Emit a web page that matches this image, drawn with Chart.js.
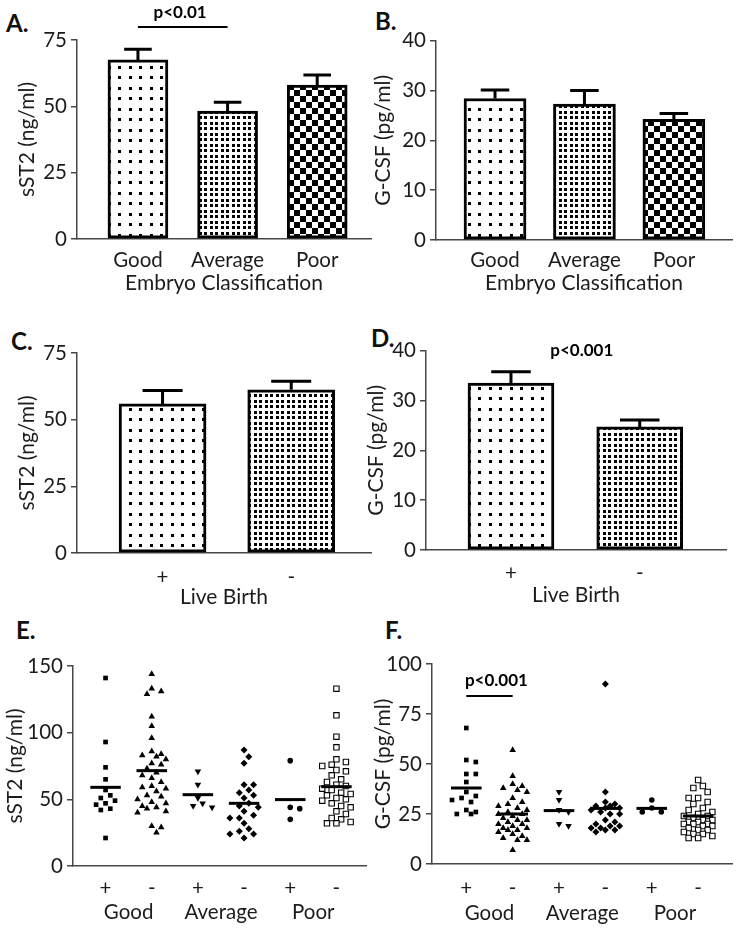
<!DOCTYPE html>
<html>
<head>
<meta charset="utf-8">
<script src="https://cdn.jsdelivr.net/npm/chart.js@4.4.1/dist/chart.umd.min.js"></script>
<style>
  body { margin: 0; background: #fff; width: 738px; height: 929px; position: relative; overflow: hidden; }
  canvas { position: absolute; }
  .tag { position: absolute; font: bold 24px Lato, sans-serif; line-height: 24px; color: #111; }
</style>
</head>
<body>
<div class="tag" style="left:6px;top:11px">A.</div>
<div class="tag" style="left:375px;top:9px">B.</div>
<div class="tag" style="left:11px;top:329px">C.</div>
<div class="tag" style="left:371px;top:326px">D.</div>
<div class="tag" style="left:16px;top:618px">E.</div>
<div class="tag" style="left:385px;top:618px">F.</div>
<canvas id="panelA"></canvas>
<canvas id="panelB"></canvas>
<canvas id="panelC"></canvas>
<canvas id="panelD"></canvas>
<canvas id="panelE"></canvas>
<canvas id="panelF"></canvas>
<script>
// Data
const embryoCats = ['Good', 'Average', 'Poor'];
const sst2ByEmbryo = [67.5, 48.2, 58.0];
const sst2ByEmbryoSem = [4.0, 3.3, 3.8];
const gcsfByEmbryo = [28.4, 27.3, 24.2];
const gcsfByEmbryoSem = [1.7, 2.7, 1.2];

const birthCats = ['+', '-'];
const sst2ByBirth = [55.9, 61.2];
const sst2ByBirthSem = [5.0, 3.2];
const gcsfByBirth = [33.5, 24.7];
const gcsfByBirthSem = [2.3, 1.4];

const dotCats = ['+', '-', '+', '-', '+', '-'];
const dotGroups = ['Good', 'Average', 'Poor'];

const sst2GoodPos = [141, 93, 74, 65, 57, 53, 51, 49, 47, 46, 43, 42, 21];
const sst2GoodNeg = [144, 133, 131, 129, 112, 105, 96, 86, 84, 83, 82, 80, 77, 76, 73, 70, 68, 66, 63, 60, 59, 58, 56, 53, 52, 50, 48, 47, 45, 44, 43, 41, 40, 30, 29, 25];
const sst2AvgPos = [71, 61, 51, 47, 45, 44];
const sst2AvgNeg = [87, 82, 77, 61, 61, 57, 55, 53, 51, 47, 45, 44, 41, 38, 36, 36, 32, 28, 26, 24, 24, 21];
const sst2PoorPos = [79, 44, 43, 35];
const sst2PoorNeg = [133, 113, 97, 89, 80, 78, 76, 75, 72, 71, 68, 65, 63, 61, 60, 58, 57, 55, 54, 53, 51, 50, 49, 47, 45, 44, 41, 39, 36, 35, 33, 32, 32];
const sst2Means = [59, 71.5, 53.5, 47, 49.8, 59.5];

const gcsfGoodPos = [68, 52, 51, 45, 45, 41, 36, 34, 33, 32, 31, 27, 26, 25, 25];
const gcsfGoodNeg = [57, 44, 40, 39, 38, 37, 36, 33, 31, 30, 29, 28, 27, 26, 25, 25, 24, 23, 22, 22, 21, 20, 20, 19, 18, 18, 17, 17, 16, 15, 14, 13, 12, 12, 7];
const gcsfAvgPos = [36, 32, 27, 26, 20, 19];
const gcsfAvgNeg = [90, 36, 31, 30, 29, 29, 28, 28, 27, 26, 25, 25, 22, 21, 20, 19, 19, 18, 18, 17, 17, 16];
const gcsfPoorPos = [32, 28, 26, 26];
const gcsfPoorNeg = [42, 39, 38, 36, 33, 33, 31, 30, 28, 27, 26, 25, 24, 24, 23, 22, 22, 21, 21, 20, 20, 20, 19, 19, 18, 17, 17, 16, 15, 15, 14, 13, 13];
const gcsfMeans = [38, 25, 26.7, 27.8, 27.8, 24];

const FONT = 'Lato, "Open Sans", sans-serif';
const INK = '#1c1c1c';
const AXIS = '#474747';
const TICK_FS = 20.5;
const TITLE_FS = 21;

// bar fills
function makePattern(ctx, kind) {
    const t = document.createElement('canvas');
    const g = t.getContext('2d');
    if (kind === 'sparse') {
        t.width = t.height = 21;
        g.fillStyle = '#fff'; g.fillRect(0, 0, 21, 21);
        g.fillStyle = '#000';
        [[3, 3], [13, 3], [3, 13], [13, 13]].forEach(p => g.fillRect(p[0], p[1], 3, 3));
    } else if (kind === 'dense') {
        t.width = t.height = 11;
        g.fillStyle = '#fff'; g.fillRect(0, 0, 11, 11);
        g.fillStyle = '#000';
        [[1, 1], [6, 1], [1, 6], [6, 6]].forEach(p => g.fillRect(p[0], p[1], 3, 3));
    } else {
        t.width = t.height = 12;
        g.fillStyle = '#fff'; g.fillRect(0, 0, 12, 12);
        g.fillStyle = '#000';
        g.fillRect(0, 0, 6, 6); g.fillRect(6, 6, 6, 6);
    }
    return ctx.createPattern(t, 'repeat');
}

const errorBarPlugin = {
    id: 'errorBars',
    afterDatasetsDraw(chart, args, opts) {
        if (!opts.sems) return;
        const { ctx } = chart;
        const y = chart.scales.y;
        const vals = chart.data.datasets[0].data;
        ctx.save();
        ctx.strokeStyle = '#000';
        ctx.lineWidth = 3;
        chart.getDatasetMeta(0).data.forEach((bar, i) => {
            const top = y.getPixelForValue(vals[i].y + opts.sems[i]);
            const half = bar.width * 0.23;
            ctx.beginPath();
            ctx.moveTo(bar.x, bar.y);
            ctx.lineTo(bar.x, top);
            ctx.moveTo(bar.x - half, top);
            ctx.lineTo(bar.x + half, top);
            ctx.stroke();
        });
        ctx.restore();
    }
};

const sigPlugin = {
    id: 'sig',
    afterDatasetsDraw(chart, args, opts) {
        if (!opts.text) return;
        const { ctx } = chart;
        const { x, y } = chart.scales;
        ctx.save();
        ctx.fillStyle = '#000';
        ctx.font = 'bold 17px ' + FONT;
        ctx.textAlign = 'center';
        ctx.textBaseline = 'middle';
        ctx.fillText(opts.text, x.getPixelForValue(opts.textX), y.getPixelForValue(opts.textY));
        if (opts.span) {
            const ly = y.getPixelForValue(opts.lineY);
            ctx.strokeStyle = '#000';
            ctx.lineWidth = 2;
            ctx.beginPath();
            ctx.moveTo(x.getPixelForValue(opts.span[0]), ly);
            ctx.lineTo(x.getPixelForValue(opts.span[1]), ly);
            ctx.stroke();
        }
        ctx.restore();
    }
};

function setupCanvas(id, box) {
    const cv = document.getElementById(id);
    cv.width = box.w;
    cv.height = box.h;
    cv.style.left = box.x + 'px';
    cv.style.top = box.y + 'px';
    return cv.getContext('2d');
}

function valueAxis(max, step, width, title, titleX) {
    return {
        type: 'linear', min: 0, max: max,
        ticks: { stepSize: step, color: INK, font: { family: FONT, size: TICK_FS }, padding: 4 },
        grid: { drawOnChartArea: false, drawTicks: true, tickLength: 6, color: AXIS, lineWidth: 1.5 },
        border: { color: AXIS, width: 1.5 },
        title: {
            display: true, text: title, color: INK,
            font: { family: FONT, size: TITLE_FS, lineHeight: 1.2 },
            padding: { top: titleX - TITLE_FS * 0.6, bottom: 0 }
        },
        afterFit: s => { s.width = width; }
    };
}

// labelMid: distance from the axis line down to the middle of the tick labels
function catAxis(labels, positions, min, max, height, labelMid, title, titleOff) {
    return {
        type: 'linear', min: min, max: max, offset: false,
        afterBuildTicks: s => { s.ticks = positions.map(v => ({ value: v })); },
        ticks: {
            autoSkip: false, maxRotation: 0, color: INK, padding: labelMid - TICK_FS * 0.6,
            font: { family: FONT, size: TICK_FS },
            callback: (v, i) => labels[i]
        },
        grid: { display: false, drawTicks: false },
        border: { display: true, color: AXIS, width: 1.5 },
        title: title ? {
            display: true, text: title, color: INK,
            font: { family: FONT, size: TITLE_FS, lineHeight: 1.2 },
            padding: { top: 0, bottom: titleOff - TITLE_FS * 0.6 }
        } : { display: false },
        afterFit: s => { s.height = height; }
    };
}

function barPanel(id, box, area, o) {
    const ctx = setupCanvas(id, box);
    return new Chart(ctx, {
        type: 'bar',
        data: {
            datasets: [{
                data: o.values.map((v, i) => ({ x: i, y: v })),
                backgroundColor: o.fills.map(k => makePattern(ctx, k)),
                borderColor: '#000',
                borderWidth: 3,
                borderSkipped: false,
                barThickness: o.barW
            }]
        },
        options: {
            responsive: false,
            animation: false,
            layout: { padding: { left: 0, top: area.t - box.y, right: box.x + box.w - area.r, bottom: 0 } },
            plugins: {
                legend: { display: false },
                tooltip: { enabled: false },
                errorBars: { sems: o.sems },
                sig: o.sig || {}
            },
            scales: {
                x: catAxis(o.cats, o.cats.map((c, i) => i), o.xMin, o.xMax,
                    box.y + box.h - area.b, o.labelMid, o.xTitle, o.xTitleOff),
                y: valueAxis(o.yMax, o.yStep, area.l - box.x, o.yTitle, o.yTitleX)
            }
        },
        plugins: [errorBarPlugin, sigPlugin]
    });
}

// spread points of one column sideways so they don't sit on top of each other
function swarm(vals, ci, pxY, pxX) {
    const step = 4.8, diam = 7, maxK = 3;
    const placed = [];
    const order = vals.map((v, i) => i).sort((a, b) => vals[b] - vals[a]);
    const pts = [];
    order.forEach(i => {
        const py = vals[i] * pxY;
        let best = 0, bestGap = -1;
        for (let k = 0; k <= maxK * 2; k++) {
            const dx = k === 0 ? 0 : (k % 2 ? 1 : -1) * Math.ceil(k / 2) * step;
            const gap = Math.min(Infinity, ...placed.map(p => Math.hypot(p.x - dx, p.y - py)));
            if (gap >= diam) { best = dx; break; }
            if (gap > bestGap) { bestGap = gap; best = dx; }
        }
        placed.push({ x: best, y: py });
        pts.push({ x: ci + best / pxX, y: vals[i] });
    });
    return pts;
}

const markers = [
    { style: 'rect', rot: 0, r: 3.3, fill: '#000', bw: 0 },
    { style: 'triangle', rot: 0, r: 3.8, fill: '#000', bw: 0 },
    { style: 'triangle', rot: 180, r: 3.8, fill: '#000', bw: 0 },
    { style: 'rectRot', rot: 0, r: 3.5, fill: '#000', bw: 0 },
    { style: 'circle', rot: 0, r: 2.8, fill: '#000', bw: 0 },
    { style: 'rect', rot: 0, r: 3.8, fill: '#fff', bw: 1.1 }
];

function dotPanel(id, box, area, o) {
    const ctx = setupCanvas(id, box);
    const pxY = (area.b - area.t) / o.yMax;
    const pxX = (area.r - area.l) / (o.xMax - o.xMin);
    const datasets = o.columns.map((vals, i) => ({
        type: 'scatter',
        data: swarm(vals, i, pxY, pxX),
        pointStyle: markers[i].style,
        rotation: markers[i].rot,
        pointRadius: markers[i].r,
        backgroundColor: markers[i].fill,
        borderColor: '#000',
        borderWidth: markers[i].bw,
        order: 2
    }));
    o.means.forEach((m, i) => {
        datasets.push({
            type: 'line',
            data: [{ x: i - 0.33, y: m }, { x: i + 0.33, y: m }],
            borderColor: '#000',
            borderWidth: 3,
            pointRadius: 0,
            order: 1
        });
    });
    const xHeight = 30;
    const x = catAxis(dotCats, dotCats.map((c, i) => i), o.xMin, o.xMax, xHeight, o.labelMid);
    const x2 = catAxis(dotGroups, [0.5, 2.5, 4.5], o.xMin, o.xMax,
        box.y + box.h - area.b - xHeight, o.groupMid);
    x2.position = 'bottom';
    x2.weight = 1;
    x2.border = { display: false };
    return new Chart(ctx, {
        type: 'scatter',
        data: { datasets: datasets },
        options: {
            responsive: false,
            animation: false,
            clip: false,
            layout: { padding: { left: 0, top: area.t - box.y, right: box.x + box.w - area.r, bottom: 0 } },
            plugins: { legend: { display: false }, tooltip: { enabled: false }, sig: o.sig || {} },
            scales: {
                x: x,
                x2: x2,
                y: valueAxis(o.yMax, o.yStep, area.l - box.x, o.yTitle, o.yTitleX)
            }
        },
        plugins: [sigPlugin]
    });
}

barPanel('panelA', { x: 0, y: 0, w: 372, h: 300 }, { l: 77, t: 40, r: 371, b: 239 }, {
    cats: embryoCats, values: sst2ByEmbryo, sems: sst2ByEmbryoSem,
    fills: ['sparse', 'dense', 'checker'], barW: 60,
    xMin: -0.68, xMax: 2.6, labelMid: 21, xTitle: 'Embryo Classification', xTitleOff: 17,
    yMax: 75, yStep: 25, yTitle: 'sST2 (ng/ml)', yTitleX: 27,
    sig: { text: 'p<0.01', textX: 0.47, textY: 85.2, span: [0, 1], lineY: 79.9 }
});

barPanel('panelB', { x: 360, y: 0, w: 378, h: 300 }, { l: 436, t: 40.7, r: 732, b: 240 }, {
    cats: embryoCats, values: gcsfByEmbryo, sems: gcsfByEmbryoSem,
    fills: ['sparse', 'dense', 'checker'], barW: 62,
    xMin: -0.66, xMax: 2.65, labelMid: 20, xTitle: 'Embryo Classification', xTitleOff: 17,
    yMax: 40, yStep: 10, yTitle: 'G-CSF (pg/ml)', yTitleX: 23
});

barPanel('panelC', { x: 0, y: 300, w: 372, h: 320 }, { l: 77, t: 353, r: 371, b: 553 }, {
    cats: birthCats, values: sst2ByBirth, sems: sst2ByBirthSem,
    fills: ['sparse', 'dense'], barW: 87,
    xMin: -0.665, xMax: 1.62, labelMid: 24, xTitle: 'Live Birth', xTitleOff: 23,
    yMax: 75, yStep: 25, yTitle: 'sST2 (ng/ml)', yTitleX: 27
});

barPanel('panelD', { x: 360, y: 300, w: 378, h: 320 }, { l: 426, t: 350.7, r: 726, b: 550 }, {
    cats: birthCats, values: gcsfByBirth, sems: gcsfByBirthSem,
    fills: ['sparse', 'dense'], barW: 86,
    xMin: -0.66, xMax: 1.67, labelMid: 23, xTitle: 'Live Birth', xTitleOff: 25,
    yMax: 40, yStep: 10, yTitle: 'G-CSF (pg/ml)', yTitleX: 16,
    sig: { text: 'p<0.001', textX: 0.55, textY: 40.1 }
});

dotPanel('panelE', { x: 0, y: 620, w: 372, h: 309 }, { l: 73, t: 666, r: 371, b: 866 }, {
    columns: [sst2GoodPos, sst2GoodNeg, sst2AvgPos, sst2AvgNeg, sst2PoorPos, sst2PoorNeg],
    means: sst2Means,
    xMin: -0.705, xMax: 5.66, labelMid: 22, groupMid: 16,
    yMax: 150, yStep: 50, yTitle: 'sST2 (ng/ml)', yTitleX: 15
});

dotPanel('panelF', { x: 360, y: 620, w: 378, h: 309 }, { l: 432, t: 664, r: 736, b: 864 }, {
    columns: [gcsfGoodPos, gcsfGoodNeg, gcsfAvgPos, gcsfAvgNeg, gcsfPoorPos, gcsfPoorNeg],
    means: gcsfMeans,
    xMin: -0.74, xMax: 5.75, labelMid: 24, groupMid: 19,
    yMax: 100, yStep: 25, yTitle: 'G-CSF (pg/ml)', yTitleX: 23,
    sig: { text: 'p<0.001', textX: 0.65, textY: 91.5, span: [0, 1], lineY: 84 }
});
</script>
</body>
</html>
